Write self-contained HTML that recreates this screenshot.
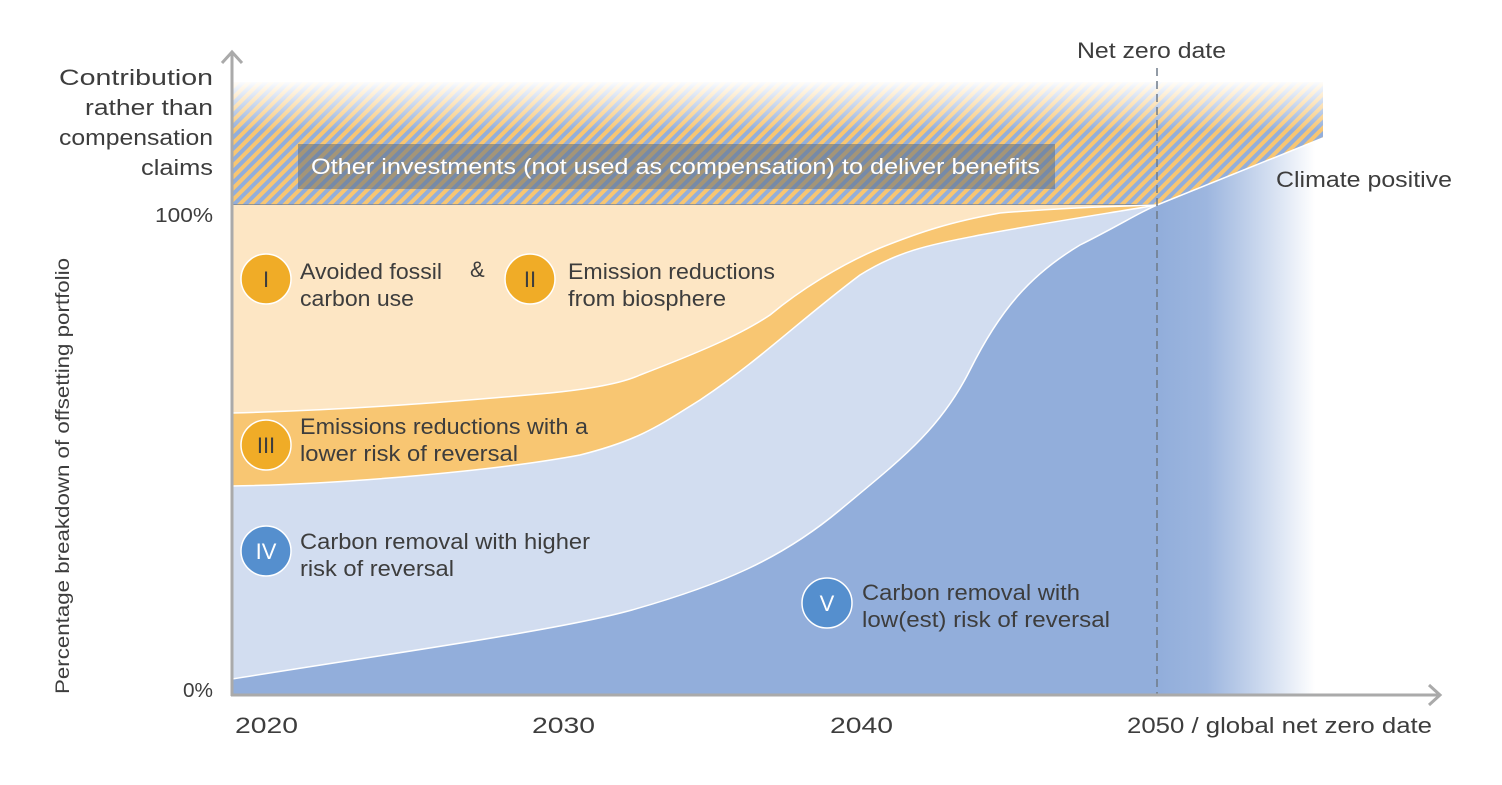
<!DOCTYPE html>
<html><head><meta charset="utf-8"><style>
body{margin:0;background:#fff}
svg text{font-family:"Liberation Sans",sans-serif;fill:#3d3d3d}
</style></head><body>
<svg width="1502" height="780" viewBox="0 0 1502 780" xmlns="http://www.w3.org/2000/svg">
<defs>
<pattern id="st" patternUnits="userSpaceOnUse" width="8" height="8" patternTransform="rotate(45)">
<rect width="8" height="8" fill="#92aedb"/><rect width="4" height="8" fill="#f8c672"/>
</pattern>
<linearGradient id="fadeTop" x1="0" y1="0" x2="0" y2="1">
<stop offset="0" stop-color="#fff" stop-opacity="1"/>
<stop offset="0.2" stop-color="#fff" stop-opacity="0.5"/>
<stop offset="0.4" stop-color="#fff" stop-opacity="0"/>
</linearGradient>
<linearGradient id="fadeR" x1="1160" y1="0" x2="1315" y2="0" gradientUnits="userSpaceOnUse">
<stop offset="0" stop-color="#92aedb"/>
<stop offset="0.3" stop-color="#9db6df"/>
<stop offset="1" stop-color="#92aedb" stop-opacity="0"/>
</linearGradient>
</defs>
<polygon points="232,82 1323,82 1323,138 1157,205 232,205" fill="url(#st)"/>
<rect x="232" y="80" width="1092" height="127" fill="url(#fadeTop)"/>
<rect x="298" y="144" width="757" height="45" fill="rgba(95,110,125,0.55)"/>
<text x="311" y="174" font-size="22" textLength="729" lengthAdjust="spacingAndGlyphs" style="fill:#fff">Other investments (not used as compensation) to deliver benefits</text>
<line x1="232" y1="205" x2="1157" y2="205" stroke="#7a8490" stroke-width="1.5"/>
<rect x="232" y="205" width="925" height="490" fill="#fde6c4"/>
<path d="M232,413 C350,410 450,402 550,393 C600,388 625,382 640,375 C700,352 740,335 770,315 C800,290 840,265 880,248 C920,232 950,222 1000,213 C1060,208 1120,206 1157,205 L1157,695 L232,695Z" fill="#f8c672" stroke="#fff" stroke-width="1.5"/>
<path d="M232,486 C350,484 500,470 580,455 C640,440 660,425 700,400 C760,360 800,320 860,275 C900,250 930,245 980,235 C1050,222 1110,213 1157,205 L1157,695 L232,695Z" fill="#d2ddf0" stroke="#fff" stroke-width="1.5"/>
<path d="M232,679 C400,652 560,630 632,610 C720,585 780,560 840,510 C900,460 940,430 970,370 C1000,310 1030,275 1080,245 C1120,225 1140,212 1157,205 L1323,138 L1323,695 L232,695Z" fill="url(#fadeR)"/>
<path d="M232,679 C400,652 560,630 632,610 C720,585 780,560 840,510 C900,460 940,430 970,370 C1000,310 1030,275 1080,245 C1120,225 1140,212 1157,205 L1157,695 L232,695Z" fill="#92aedb"/>
<path d="M232,679 C400,652 560,630 632,610 C720,585 780,560 840,510 C900,460 940,430 970,370 C1000,310 1030,275 1080,245 C1120,225 1140,212 1157,205 L1323,138" fill="none" stroke="#fff" stroke-width="1.5"/>
<line x1="1157" y1="68" x2="1157" y2="695" stroke="#6e7a88" stroke-width="1.5" stroke-dasharray="8,5"/>
<line x1="232" y1="52" x2="232" y2="696" stroke="#aaa" stroke-width="3"/>
<polyline points="222,63 232,52 242,63" fill="none" stroke="#aaa" stroke-width="3"/>
<line x1="231" y1="695" x2="1440" y2="695" stroke="#aaa" stroke-width="3"/>
<polyline points="1429,685 1440,695 1429,705" fill="none" stroke="#aaa" stroke-width="3"/>
<g font-size="22" text-anchor="end">
<text x="213" y="85" textLength="154" lengthAdjust="spacingAndGlyphs">Contribution</text>
<text x="213" y="115" textLength="128" lengthAdjust="spacingAndGlyphs">rather than</text>
<text x="213" y="145" textLength="154" lengthAdjust="spacingAndGlyphs">compensation</text>
<text x="213" y="175" textLength="72" lengthAdjust="spacingAndGlyphs">claims</text>
<text x="213" y="222" font-size="20" textLength="58" lengthAdjust="spacingAndGlyphs">100%</text>
<text x="213" y="697" font-size="20" textLength="30" lengthAdjust="spacingAndGlyphs">0%</text>
</g>
<text transform="translate(69,476) rotate(-90)" font-size="19" text-anchor="middle" textLength="436" lengthAdjust="spacingAndGlyphs">Percentage breakdown of offsetting portfolio</text>
<g font-size="22" lengthAdjust="spacingAndGlyphs">
<text x="235" y="733" textLength="63" lengthAdjust="spacingAndGlyphs">2020</text>
<text x="532" y="733" textLength="63" lengthAdjust="spacingAndGlyphs">2030</text>
<text x="830" y="733" textLength="63" lengthAdjust="spacingAndGlyphs">2040</text>
<text x="1127" y="733" textLength="305" lengthAdjust="spacingAndGlyphs">2050 / global net zero date</text>
<text x="1077" y="58" textLength="149" lengthAdjust="spacingAndGlyphs">Net zero date</text>
<text x="1276" y="187" textLength="176" lengthAdjust="spacingAndGlyphs">Climate positive</text>
<text x="300" y="279" textLength="142" lengthAdjust="spacingAndGlyphs">Avoided fossil</text>
<text x="300" y="306" textLength="114" lengthAdjust="spacingAndGlyphs">carbon use</text>
<text x="470" y="277">&amp;</text>
<text x="568" y="279" textLength="207" lengthAdjust="spacingAndGlyphs">Emission reductions</text>
<text x="568" y="306" textLength="158" lengthAdjust="spacingAndGlyphs">from biosphere</text>
<text x="300" y="434" textLength="288" lengthAdjust="spacingAndGlyphs">Emissions reductions with a</text>
<text x="300" y="461" textLength="218" lengthAdjust="spacingAndGlyphs">lower risk of reversal</text>
<text x="300" y="549" textLength="290" lengthAdjust="spacingAndGlyphs">Carbon removal with higher</text>
<text x="300" y="576" textLength="154" lengthAdjust="spacingAndGlyphs">risk of reversal</text>
<text x="862" y="600" textLength="218" lengthAdjust="spacingAndGlyphs">Carbon removal with</text>
<text x="862" y="627" textLength="248" lengthAdjust="spacingAndGlyphs">low(est) risk of reversal</text>
</g>
<g stroke="#fff" stroke-width="1.5">
<circle cx="266" cy="279" r="25" fill="#f0ac27"/>
<circle cx="530" cy="279" r="25" fill="#f0ac27"/>
<circle cx="266" cy="445" r="25" fill="#f0ac27"/>
<circle cx="266" cy="551" r="25" fill="#558fce"/>
<circle cx="827" cy="603" r="25" fill="#558fce"/>
</g>
<g font-size="22" text-anchor="middle">
<text x="266" y="287">I</text>
<text x="530" y="287">II</text>
<text x="266" y="453">III</text>
<text x="266" y="559" style="fill:#fff">IV</text>
<text x="827" y="611" style="fill:#fff">V</text>
</g>
</svg>
</body></html>
